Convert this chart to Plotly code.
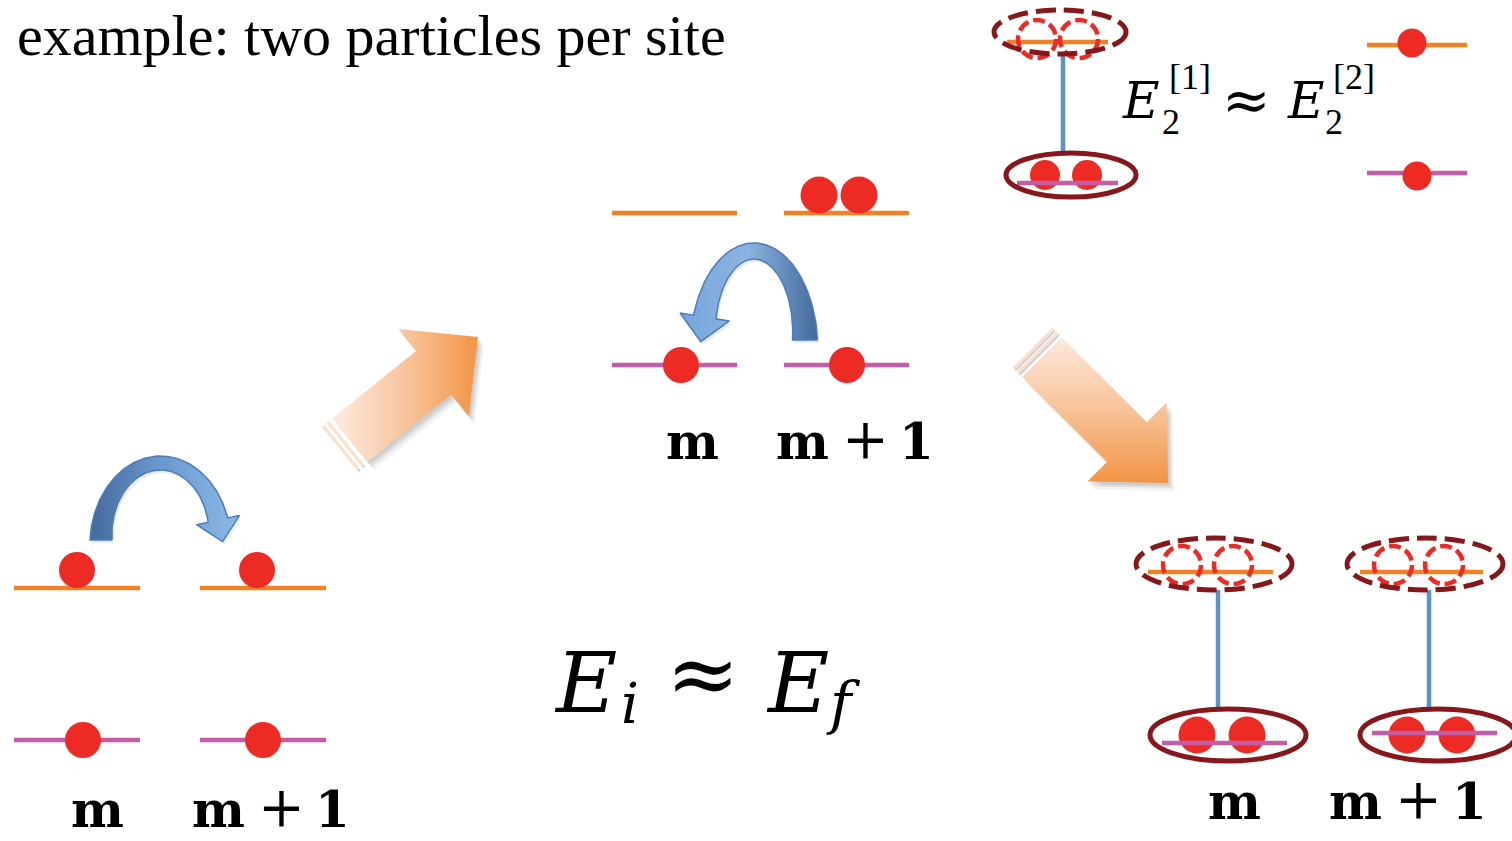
import numpy as np
import plotly.graph_objects as go

# ---------------- data (diagram geometry, pixel units of a 1512x841 canvas) ----------------
TITLE = "example: two particles per site"
SITE_LABELS = ["m", "m + 1"]
# centre of the single "m" label, centre of the "m" in "m + 1", baseline
SITE_LABEL_POS = [(97, 218, 826), (692, 802, 458), (1234, 1355, 818)]
PLUS_OFFSETS = [0, 63, 114]  # m, +, 1 centres relative to first token

# free single-site levels: (x0, x1, y)
FREE_UPPER = [(14, 140, 588), (200, 326, 588), (612, 737, 213), (784, 909, 213), (1367, 1467, 45)]
FREE_LOWER = [(14, 140, 740), (200, 326, 740), (612, 737, 365), (784, 909, 365), (1367, 1467, 173)]
# levels belonging to bound (pair) sites
BOUND_UPPER = [(1007, 1108, 42), (1148, 1273, 572), (1360, 1483, 572)]
BOUND_LOWER = [(1017, 1118, 183), (1162, 1287, 743), (1372, 1497, 733)]

# particles
PARTICLE_X = [77, 257, 83, 263, 819, 859, 681, 847, 1197, 1247, 1407, 1457, 1045, 1087, 1412, 1417]
PARTICLE_Y = [570, 570, 740, 740, 195, 195, 365, 365, 735, 735, 735, 735, 175, 175, 43, 176]
PARTICLE_D = [36, 36, 36, 36, 37, 37, 36, 36, 37, 37, 37, 37, 30, 30, 29, 29]

# virtual (dashed) particles: (cx, cy, r)
HOLES = [(1037, 39, 19), (1079, 39, 19), (1182, 565, 19), (1233, 565, 19), (1393, 565, 19), (1444, 565, 19)]

# pair ellipses (cx, cy, rx, ry)
DASHED_ELLIPSES = [(1060, 32, 66, 22), (1214, 564, 78, 26), (1425, 564, 78, 26)]
SOLID_ELLIPSES = [(1071, 175, 65, 22), (1228, 735, 78, 26), (1438, 735, 78, 26)]
LINKS = [(1063, 53, 153), (1218, 590, 707), (1429, 590, 707)]

# hopping (curved) arrows
HOPS = [
    dict(cx=160.5, cy=540, rx=59.5, ry=77, w_side=11, w_top=7, th_end=np.radians(15),
         head_hw=22, head_len=22, tail_left=True,
         colors=[[0, "#43699c"], [0.45, "#6a98cf"], [1, "#8fbbe8"]], g0=90, g1=245),
    dict(cx=754, cy=340, rx=51, ry=89, w_side=12.5, w_top=8, th_end=np.radians(15),
         head_hw=25, head_len=25, tail_left=False,
         colors=[[0, "#75a6dd"], [0.5, "#8db3e0"], [1, "#44699b"]], g0=678, g1=818),
]

# process (straight) arrows
PROCESS = [
    dict(tail=(350, 440), tip=(478, 337), bw=28, hw=56, hl=57, gtype="horizontal", g0=333, g1=478),
    dict(tail=(1042, 357), tip=(1168, 483), bw=28, hw=56, hl=58, gtype="vertical", g0=333, g1=483),
]

# energy relations
MAIN_RELATION = ["E", "i", "≈", "E", "f"]
PAIR_RELATION = [("E", "2", "[1]"), ("E", "2", "[2]")]

SERIF = "Liberation Serif"
DSERIF = "DejaVu Serif"
ORANGE = "#f28025"
PURPLE = "#c45ca6"
RED = "#ee2a24"
DARKRED = "#87171a"
BLUE = "#5b92c9"

W, H = 1512, 841

fig = go.Figure()


def seg_shape(x0, x1, y, color, layer, width=4.5):
    fig.add_shape(type="line", xref="x", yref="y", x0=x0, x1=x1, y0=y, y1=y,
                  line=dict(color=color, width=width), layer=layer)


# ---------------- straight arrows ----------------
def straight_arrow(tail, tip, bw, hw, hl):
    t = np.array(tail, float)
    p = np.array(tip, float)
    d = (p - t) / np.linalg.norm(p - t)
    n = np.array([-d[1], d[0]])
    b = p - hl * d
    pts = [t + bw * n, b + bw * n, b + hw * n, p, b - hw * n, b - bw * n, t - bw * n, t + bw * n]
    return np.array(pts), t, d, n


for a in PROCESS:
    pts, t, d, n = straight_arrow(a["tail"], a["tip"], a["bw"], a["hw"], a["hl"])
    for off, alpha in [((6, 8), 0.05), ((4, 5), 0.08), ((2, 3), 0.08)]:
        fig.add_trace(go.Scatter(x=pts[:, 0] + off[0], y=pts[:, 1] + off[1], mode="lines",
                                 fill="toself", fillcolor=f"rgba(0,0,0,{alpha})",
                                 line=dict(width=0), hoverinfo="skip", showlegend=False))
    fig.add_trace(go.Scatter(
        x=pts[:, 0], y=pts[:, 1], mode="lines", fill="toself",
        fillgradient=dict(type=a["gtype"], start=a["g0"], stop=a["g1"],
                          colorscale=[[0, "#fdebe0"], [0.5, "#f8c49c"], [1, "#f39445"]]),
        line=dict(width=0), hoverinfo="skip", showlegend=False))
    for dist in [6, 12]:
        c = t - dist * d
        s0 = c + a["bw"] * n
        s1 = c - a["bw"] * n
        fig.add_trace(go.Scatter(x=[s0[0] + 1.5, s1[0] + 1.5], y=[s0[1] + 2, s1[1] + 2], mode="lines",
                                 line=dict(color="rgba(0,0,0,0.18)", width=2.5),
                                 hoverinfo="skip", showlegend=False))
        fig.add_trace(go.Scatter(x=[s0[0], s1[0]], y=[s0[1], s1[1]], mode="lines",
                                 line=dict(color="#fbe0cc", width=3),
                                 hoverinfo="skip", showlegend=False))


# ---------------- curved hopping arrows ----------------
def curved_arrow(cx, cy, rx, ry, w_side, w_top, th_end, head_hw, head_len, tail_left):
    if tail_left:
        th = np.linspace(np.pi, th_end, 120)
    else:
        th = np.linspace(0, np.pi - th_end, 120)
    px = cx + rx * np.cos(th)
    py = cy - ry * np.sin(th)
    dx = np.gradient(px)
    dy = np.gradient(py)
    L = np.hypot(dx, dy)
    tx, ty = dx / L, dy / L
    nx, ny = -ty, tx
    w = w_side - (w_side - w_top) * np.sin(th)
    ox, oy = px + w * nx, py + w * ny
    ix, iy = px - w * nx, py - w * ny
    ex, ey = px[-1], py[-1]
    tip = (ex + head_len * tx[-1], ey + head_len * ty[-1])
    h1 = (ex + head_hw * nx[-1], ey + head_hw * ny[-1])
    h2 = (ex - head_hw * nx[-1], ey - head_hw * ny[-1])
    xs = list(ox) + [h1[0], tip[0], h2[0]] + list(ix[::-1]) + [ox[0]]
    ys = list(oy) + [h1[1], tip[1], h2[1]] + list(iy[::-1]) + [oy[0]]
    return np.array(xs), np.array(ys)


for hp in HOPS:
    xs, ys = curved_arrow(hp["cx"], hp["cy"], hp["rx"], hp["ry"], hp["w_side"], hp["w_top"],
                          hp["th_end"], hp["head_hw"], hp["head_len"], hp["tail_left"])
    fig.add_trace(go.Scatter(x=xs + 2, y=ys + 3, mode="lines", fill="toself",
                             fillcolor="rgba(0,0,0,0.08)", line=dict(width=0),
                             hoverinfo="skip", showlegend=False))
    fig.add_trace(go.Scatter(
        x=xs, y=ys, mode="lines", fill="toself",
        fillgradient=dict(type="horizontal", start=hp["g0"], stop=hp["g1"], colorscale=hp["colors"]),
        line=dict(color="#4a7ebb", width=1.5), hoverinfo="skip", showlegend=False))

# ---------------- levels ----------------
for x0, x1, y in FREE_UPPER:
    seg_shape(x0, x1, y, ORANGE, "below")
for x0, x1, y in FREE_LOWER:
    seg_shape(x0, x1, y, PURPLE, "below")

# ---------------- particles ----------------
fig.add_trace(go.Scatter(x=PARTICLE_X, y=PARTICLE_Y, mode="markers",
                         marker=dict(size=PARTICLE_D, color=RED, opacity=1, line=dict(width=0)),
                         hoverinfo="skip", showlegend=False))

# ---------------- bound pairs ----------------
for x0, x1, y in BOUND_UPPER:
    seg_shape(x0, x1, y, ORANGE, "above")
for x0, x1, y in BOUND_LOWER:
    seg_shape(x0, x1, y, PURPLE, "above")
for x, y0, y1 in LINKS:
    fig.add_shape(type="line", xref="x", yref="y", x0=x, x1=x, y0=y0, y1=y1,
                  line=dict(color=BLUE, width=4.5), layer="above")
for cx, cy, r in HOLES:
    fig.add_shape(type="circle", xref="x", yref="y", x0=cx - r, x1=cx + r, y0=cy - r, y1=cy + r,
                  line=dict(color=RED, width=4.5, dash="12px,5px"), layer="above")
for cx, cy, rx, ry in DASHED_ELLIPSES:
    fig.add_shape(type="circle", xref="x", yref="y", x0=cx - rx, x1=cx + rx, y0=cy - ry, y1=cy + ry,
                  line=dict(color=DARKRED, width=5, dash="20px,8px"), layer="above")
for cx, cy, rx, ry in SOLID_ELLIPSES:
    fig.add_shape(type="circle", xref="x", yref="y", x0=cx - rx, x1=cx + rx, y0=cy - ry, y1=cy + ry,
                  line=dict(color=DARKRED, width=5), layer="above")


# ---------------- text ----------------
def txt(text, x, baseline, size, xanchor="center", family=SERIF, off=0.34):
    fig.add_annotation(x=x, y=baseline - off * size, xref="x", yref="y", text=text,
                       showarrow=False, xanchor=xanchor, yanchor="middle",
                       font=dict(family=family, size=size, color="black"))


txt(TITLE, 15, 55, 58, xanchor="left")

tokens = SITE_LABELS[1].split(" ")  # ["m", "+", "1"]
for x_single, x_pair, base in SITE_LABEL_POS:
    txt("<b>%s</b>" % SITE_LABELS[0], x_single, base, 50, family=DSERIF)
    for tok, dx in zip(tokens, PLUS_OFFSETS):
        if tok == "+":
            txt(tok, x_pair + dx, base, 56, family=DSERIF)
        else:
            txt("<b>%s</b>" % tok, x_pair + dx, base, 50, family=DSERIF)

# E_i ≈ E_f
E1, SUB_I, APPROX, E2, SUB_F = MAIN_RELATION
txt("<i>%s</i>" % E1, 552, 712, 84, xanchor="left", family=DSERIF)
txt("<i>%s</i>" % SUB_I, 619, 723, 56, xanchor="left", family=DSERIF)
fig.add_annotation(x=703, y=673, xref="x", yref="y", text=APPROX, showarrow=False,
                   xanchor="center", yanchor="middle", font=dict(family=DSERIF, size=88, color="black"))
txt("<i>%s</i>" % E2, 764, 712, 84, xanchor="left", family=DSERIF)
txt("<i>%s</i>" % SUB_F, 824, 723, 58, xanchor="left", family=DSERIF)

# E_2^[1] ≈ E_2^[2]
for (sym, sub, sup), ex, sub_c, sup_c in zip(PAIR_RELATION, [1120, 1285], [1171, 1334], [1190, 1354]):
    txt("<i>%s</i>" % sym, ex, 118, 50, xanchor="left", family=DSERIF)
    txt(sub, sub_c, 134, 36)
    txt(sup, sup_c, 89, 36)
fig.add_annotation(x=1246, y=100, xref="x", yref="y", text="≈", showarrow=False,
                   xanchor="center", yanchor="middle", font=dict(family=DSERIF, size=58, color="black"))

fig.update_layout(
    width=W, height=H, margin=dict(l=0, r=0, t=0, b=0),
    paper_bgcolor="white", plot_bgcolor="white", showlegend=False,
    xaxis=dict(range=[0, W], visible=False, fixedrange=True),
    yaxis=dict(range=[H, 0], visible=False, fixedrange=True),
)

fig.write_html("out.html", config={"displayModeBar": False},
               post_script="document.body.style.margin='0';document.body.style.overflow='hidden';")
